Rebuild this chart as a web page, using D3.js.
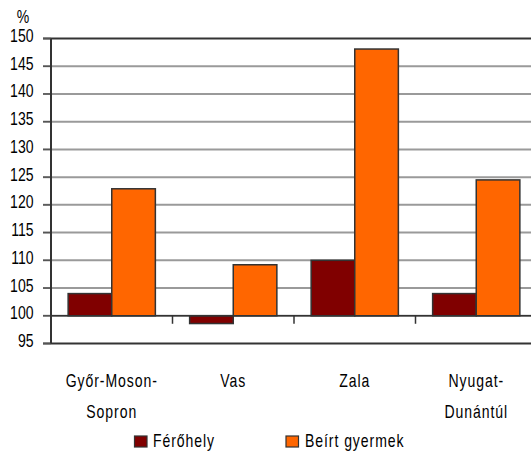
<!DOCTYPE html>
<html><head><meta charset="utf-8">
<script src="https://cdn.jsdelivr.net/npm/d3@7/dist/d3.min.js"></script>
<style>body{margin:0;background:#fff}svg{display:block}text{font-family:"Liberation Sans",Arial,sans-serif;fill:#000}</style>
</head><body>
<script>
const categories = [["Győr-Moson-","Sopron"],["Vas"],["Zala"],["Nyugat-","Dunántúl"]];
const seriesNames = ["Férőhely","Beírt gyermek"];
const ferohely = [104.0, 98.6, 110.0, 104.0];
const beirt = [122.9, 109.2, 148.1, 124.5];
const yTicks = [95,100,105,110,115,120,125,130,135,140,145,150];
const colors = ["#800000","#FF6600"];

const W=531,H=452;
const svg=d3.select("body").append("svg").attr("width",W).attr("height",H);
const L=51,R=537,T=38.5,B=343.5;
const y=d3.scaleLinear().domain([95,150]).range([B,T]);
const catKeys=categories.map((c,i)=>i);
const x0=d3.scaleBand().domain(catKeys).range([L,R]);
const x1=d3.scaleBand().domain(seriesNames).range([0,x0.bandwidth()]).paddingInner(0).paddingOuter(0.393);
const SX=0.78, FS=18;
function txt(g,x,yy,s,anchor,ls){
  const t=g.append("text").attr("transform",`translate(${x},${yy}) scale(${SX},1)`).attr("text-anchor",anchor).style("font-size",FS+"px").text(s);
  if(ls) t.style("letter-spacing",ls+"px");
  return t;
}
// grid
const grid=svg.append("g");
yTicks.forEach(t=>{
  grid.append("line").attr("x1",L-8).attr("x2",W).attr("y1",y(t)).attr("y2",y(t))
    .attr("stroke",(t===150||t===95)?"#333":"#9a9a9a").attr("stroke-width",2);
  grid.append("line").attr("x1",L-8).attr("x2",L).attr("y1",y(t)).attr("y2",y(t)).attr("stroke","#555").attr("stroke-width",1.5);
  txt(svg,33.5,y(t)+3.5,String(t),"end");
});
txt(svg,23,23,"%","middle");
// bars
const data=categories.map((c,i)=>[ferohely[i],beirt[i]]);
const gb=svg.append("g");
data.forEach((vals,i)=>{
  vals.forEach((v,j)=>{
    const bx=x0(i)+x1(seriesNames[j]);
    gb.append("rect").attr("x",bx).attr("width",x1.bandwidth())
      .attr("y",y(Math.max(v,100))).attr("height",Math.abs(y(v)-y(100)))
      .attr("fill",colors[j]).attr("stroke","#333").attr("stroke-width",1.5);
  });
});
// 100 axis line and category ticks
svg.append("line").attr("x1",L).attr("x2",W).attr("y1",y(100)).attr("y2",y(100)).attr("stroke","#333").attr("stroke-width",1.5);
catKeys.slice(1).forEach(i=>{
  svg.append("line").attr("x1",x0(i)).attr("x2",x0(i)).attr("y1",y(100)).attr("y2",y(100)+8).attr("stroke","#333").attr("stroke-width",1.5);
});
// left axis
svg.append("line").attr("x1",L).attr("x2",L).attr("y1",T).attr("y2",B).attr("stroke","#333").attr("stroke-width",2);
// category labels
categories.forEach((lines,i)=>{
  const cx=x0(i)+x0.bandwidth()/2;
  lines.forEach((s,k)=>txt(svg,cx,386.5+k*31,s,"middle",1.2));
});
// legend
const lg=[[134.5,153],[286,305]];
seriesNames.forEach((s,j)=>{
  svg.append("rect").attr("x",lg[j][0]).attr("y",436).attr("width",12.5).attr("height",11).attr("fill",colors[j]).attr("stroke","#333").attr("stroke-width",1.2);
  txt(svg,lg[j][1],446.5,s,"start",1.2);
});
</script>
</body></html>
